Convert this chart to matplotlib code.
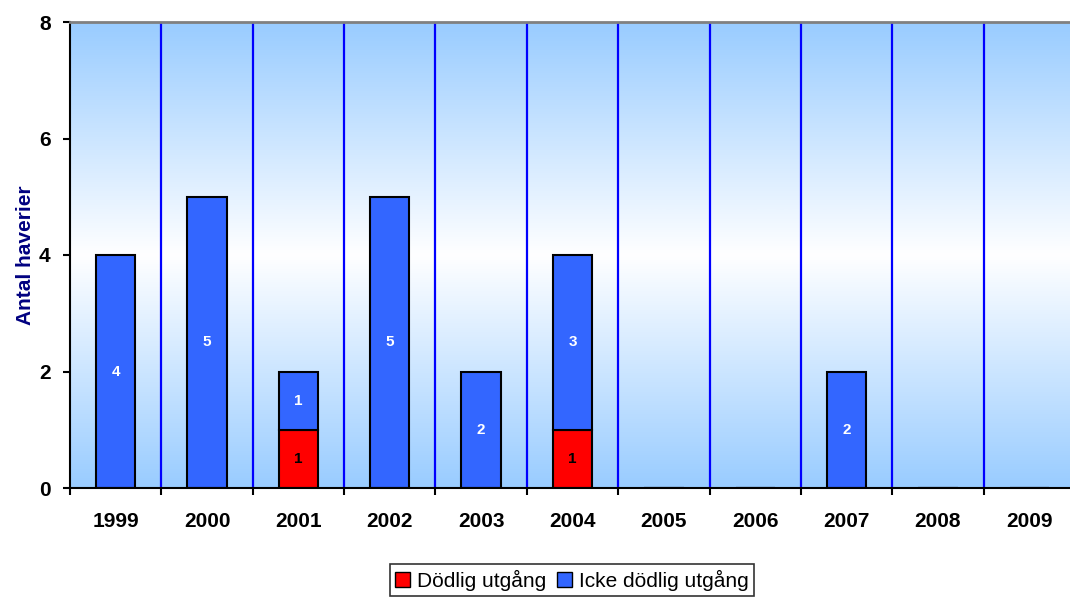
import matplotlib
matplotlib.use("Agg")
import matplotlib.pyplot as plt
import numpy as np
from matplotlib.colors import LinearSegmentedColormap
from matplotlib.patches import Patch

plt.rcParams['font.family'] = ['Liberation Sans', 'DejaVu Sans']

years = ['1999', '2000', '2001', '2002', '2003', '2004', '2005', '2006', '2007', '2008', '2009']
fatal = [0, 0, 1, 0, 0, 1, 0, 0, 0, 0, 0]
nonfatal = [4, 5, 1, 5, 2, 3, 0, 0, 2, 0, 0]

fig = plt.figure(figsize=(10.7, 5.98), dpi=100)
ax = fig.add_axes([70/1070, 110/598, 1005/1070, 466/598])

n = len(years)
x = np.arange(n)
ax.set_xlim(-0.5, n - 0.5)
ax.set_ylim(0, 8)

# gradient background
cmap = LinearSegmentedColormap.from_list('bg', ['#99CCFF', '#FFFFFF', '#99CCFF'])
grad = np.linspace(0, 1, 256).reshape(-1, 1)
ax.imshow(grad, extent=(-0.5, n - 0.5, 0, 8), aspect='auto', cmap=cmap, origin='lower', zorder=0)

# separators
for b in np.arange(0.5, n - 0.5, 1):
    ax.axvline(b, color='#0000FF', lw=1.6, zorder=1)

w = 0.43
f = np.array(fatal)
nf = np.array(nonfatal)
ax.bar(x, f, width=w, color='#FF0000', edgecolor='black', lw=1.5, zorder=2)
ax.bar(x, nf, width=w, bottom=f, color='#3366FF', edgecolor='black', lw=1.5, zorder=2)

for i in range(n):
    if f[i] > 0:
        ax.text(x[i], f[i] / 2, str(f[i]), ha='center', va='center', fontsize=11, fontweight='bold', color='black', zorder=3)
    if nf[i] > 0:
        ax.text(x[i], f[i] + nf[i] / 2, str(nf[i]), ha='center', va='center', fontsize=11, fontweight='bold', color='white', zorder=3)

ax.set_xticks(np.arange(-0.5, n - 0.5, 1))
ax.set_xticklabels([])
ax.set_xticks(x, minor=True)
ax.set_xticklabels(years, minor=True, fontsize=15, fontweight='bold')
ax.tick_params(axis='x', which='minor', length=0, pad=17)
ax.tick_params(axis='x', which='major', length=5, width=1.5, direction='out')
ax.set_yticks([0, 2, 4, 6, 8])
ax.set_yticklabels(['0', '2', '4', '6', '8'], fontsize=15, fontweight='bold')
ax.tick_params(axis='y', length=5, width=1.5, direction='out', pad=9)

ax.spines['left'].set_linewidth(1.5)
ax.spines['bottom'].set_linewidth(1.5)
ax.spines['top'].set_color('#808080')
ax.spines['top'].set_linewidth(2)
ax.spines['right'].set_visible(False)

ax.set_ylabel('Antal haverier', fontsize=15, fontweight='bold', color='#000080', labelpad=3)

handles = [Patch(facecolor='#FF0000', edgecolor='black', label='Dödlig utgång'),
           Patch(facecolor='#3366FF', edgecolor='black', label='Icke dödlig utgång')]
leg = fig.legend(handles=handles, loc='center', bbox_to_anchor=(572/1070, 1 - 580/598), ncol=2,
                 frameon=True, fancybox=False, edgecolor='black', fontsize=15,
                 handlelength=0.7, handleheight=0.7, handletextpad=0.35, columnspacing=0.5,
                 borderpad=0.25, borderaxespad=0)
leg.get_frame().set_linewidth(1.2)

fig.savefig('out.png', dpi=100)
